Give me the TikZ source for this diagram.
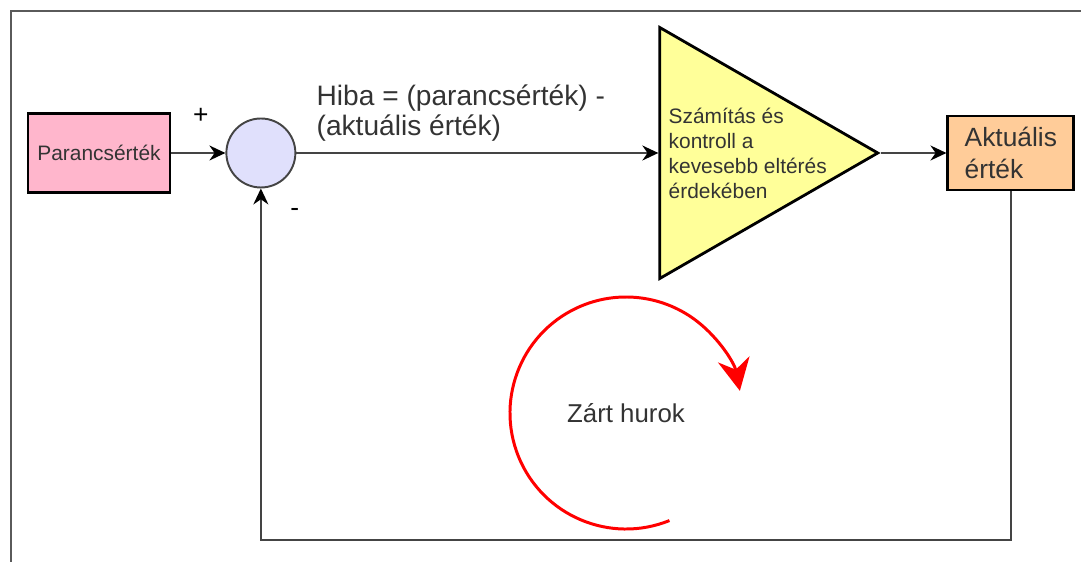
\documentclass[tikz,border=0pt]{standalone}
\usepackage{fontspec}
\setmainfont{Liberation Sans}
\usetikzlibrary{positioning, shapes.geometric, arrows.meta}
\definecolor{pinkfill}{RGB}{255,182,204}
\definecolor{sumfill}{RGB}{224,224,252}
\definecolor{ampfill}{RGB}{255,255,153}
\definecolor{peachfill}{RGB}{255,204,153}
\definecolor{darktext}{RGB}{51,51,51}
\definecolor{wiregray}{RGB}{68,68,68}
\definecolor{framegray}{RGB}{90,90,90}

\begin{document}
\begin{tikzpicture}[>={Stealth[length=3.2mm,width=3mm,color=black]},
setnode/.style={rectangle, draw=black, fill=pinkfill, line width=1.6pt, minimum width=2.84cm, minimum height=1.58cm, text=darktext, font=\fontsize{11.9}{14.2}\selectfont},
sumnode/.style={circle, draw=wiregray, fill=sumfill, line width=1.1pt, minimum size=1.38cm},
ampnode/.style={isosceles triangle, isosceles triangle stretches, shape border rotate=0, draw=black, fill=ampfill, line width=1.6pt, minimum height=4.36cm, minimum width=5.02cm, inner sep=0pt},
amptext/.style={align=left, inner sep=0pt, text=darktext, font=\fontsize{11.9}{14.2}\selectfont},
actnode/.style={rectangle, draw=black, fill=peachfill, line width=1.6pt, minimum width=2.52cm, minimum height=1.48cm, align=left, text=darktext, font=\fontsize{15}{18.1}\selectfont},
errnode/.style={align=left, inner sep=0pt, text=darktext, font=\fontsize{16}{16.6}\selectfont},
signnode/.style={inner sep=0pt, text=black, font=\fontsize{15}{17}\selectfont},
loopnode/.style={text=darktext, font=\fontsize{14.7}{17}\selectfont},
wire/.style={->, draw=wiregray, line width=1pt},
looparrow/.style={-{Stealth[length=6.4mm,width=6.4mm]}, draw=red, line width=1.7pt},
]
\useasboundingbox (0,0) rectangle (21.62,-11.24);
%Frame
\draw[framegray, line width=1.3pt] (0.22,-11.24) -- (0.22,-0.22) -- (21.62,-0.22);

%Nodes
\node[setnode]      (Param)    at (1.98,-3.06)                {Parancsérték};
\node[sumnode]      (Sum)      [right=1.08cm of Param]        {};
\node[ampnode]      (Amp)      [right=7.24cm of Sum]          {};
\node[amptext]      (AmpText)  [right=0.2cm of Amp.west]      {Számítás és\\kontroll a\\kevesebb eltérés\\érdekében};
\node[actnode]      (Actual)   [right=1.3cm of Amp.east]      {Aktuális\\érték};
\node[errnode, anchor=west] (Err) at ([shift={(0.4cm,0.8cm)}]Sum.east) {Hiba = (parancsérték) -\\(aktuális érték)};
\node[signnode]     (Plus)     at ([shift={(-1.2cm,0.74cm)}]Sum.center)  {+};
\node[signnode]     (Minus)    at ([shift={(0.68cm,-1.18cm)}]Sum.center) {-};
\node[loopnode]     (Loop)     at (12.52,-8.26)               {Zárt hurok};
\coordinate (Bottom) at (0,-10.8);

%Lines
\draw[wire] (Param.east) -- (Sum.west);
\draw[wire] (Sum.east) -- (Amp.west);
\draw[wire] (Amp.east) -- (Actual.west);
\draw[wire] (Actual.south) -- (Actual.south |- Bottom) -| (Sum.south);
\draw[looparrow] (Loop.center) ++(-68:2.32) arc[start angle=-68, end angle=-349, radius=2.32];

\end{tikzpicture}
\end{document}
